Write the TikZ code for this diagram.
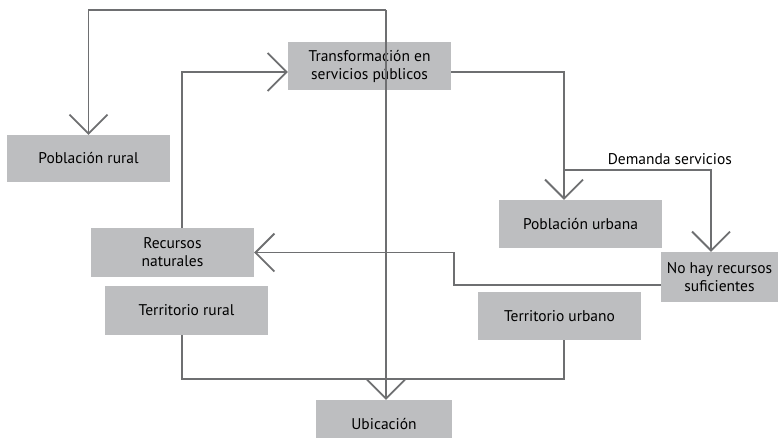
\documentclass[tikz,border=0pt]{standalone}
\usepackage{fontspec}
\setmainfont{PT Sans}
\usepackage{tikz}
\usetikzlibrary{arrows.meta}
\usetikzlibrary{positioning}
\definecolor{boxgray}{RGB}{189,190,192}
\definecolor{linegray}{RGB}{110,111,113}

\begin{document}
\begin{tikzpicture}
          [x=1pt, y=-1pt,
           box/.style={fill=boxgray, minimum width=163pt, minimum height=48pt,
                       align=center, inner sep=0pt, font=\fontsize{15.5}{18}\selectfont},
           flow/.style={draw=linegray, line width=1.8pt,
                        -{Straight Barb[length=19pt, width=38pt, line width=1.8pt]}},
           plain/.style={draw=linegray, line width=1.8pt}]
          \useasboundingbox (0,0) rectangle (778,438);

          \node[box] (trans) at (369.5,66) {Transformación en\\servicios públicos};
          \node[box, minimum height=47pt] (prural) at (88.5,158.5) {Población rural};
          \node[box, minimum height=49pt] (recnat) at (172.5,252.5) {Recursos\\naturales};
          \node[box, minimum height=49pt] (terrural) at (186.5,310.5) {Territorio rural};
          \node[box] (purb) at (580.5,224) {Población urbana};
          \node[box, minimum width=117pt, minimum height=50pt] (nohay) at (719.5,277) {No hay recursos\\suficientes};
          \node[box] (terurb) at (559.5,316) {Territorio urbano};
          \node[box, minimum width=136pt] (ubic) at (384,424) {Ubicación};

          % where the lines run
          \coordinate (top) at (386,10);
          \coordinate (mid) at (0,72);
          \coordinate (lx) at (182,0);
          \coordinate (rx) at (564,0);
          \coordinate (dem) at (0,170);
          \coordinate (dx) at (711,0);
          \coordinate (low) at (0,285);
          \coordinate (bx) at (454,0);
          \coordinate (bot) at (0,379);

          \draw[flow] (top) -| (prural.north);
          \draw[flow] (top) -- (top |- ubic.north);
          \draw[flow] (recnat.north -| lx) |- (trans.west |- mid);
          \draw[flow] (trans.east |- mid) -| (purb.north -| rx);
          \draw[flow] (rx |- dem) -| (nohay.north -| dx)
                node[pos=0.36, above=1pt, font=\fontsize{15.5}{18}\selectfont] (dlab) {Demanda servicios};
          \draw[flow] (nohay.west |- low) -| (bx |- recnat.east) -- (recnat.east);
          \draw[plain] (terrural.south -| lx) |- (rx |- bot) -- (terurb.south -| rx);
        \end{tikzpicture}
\end{document}
